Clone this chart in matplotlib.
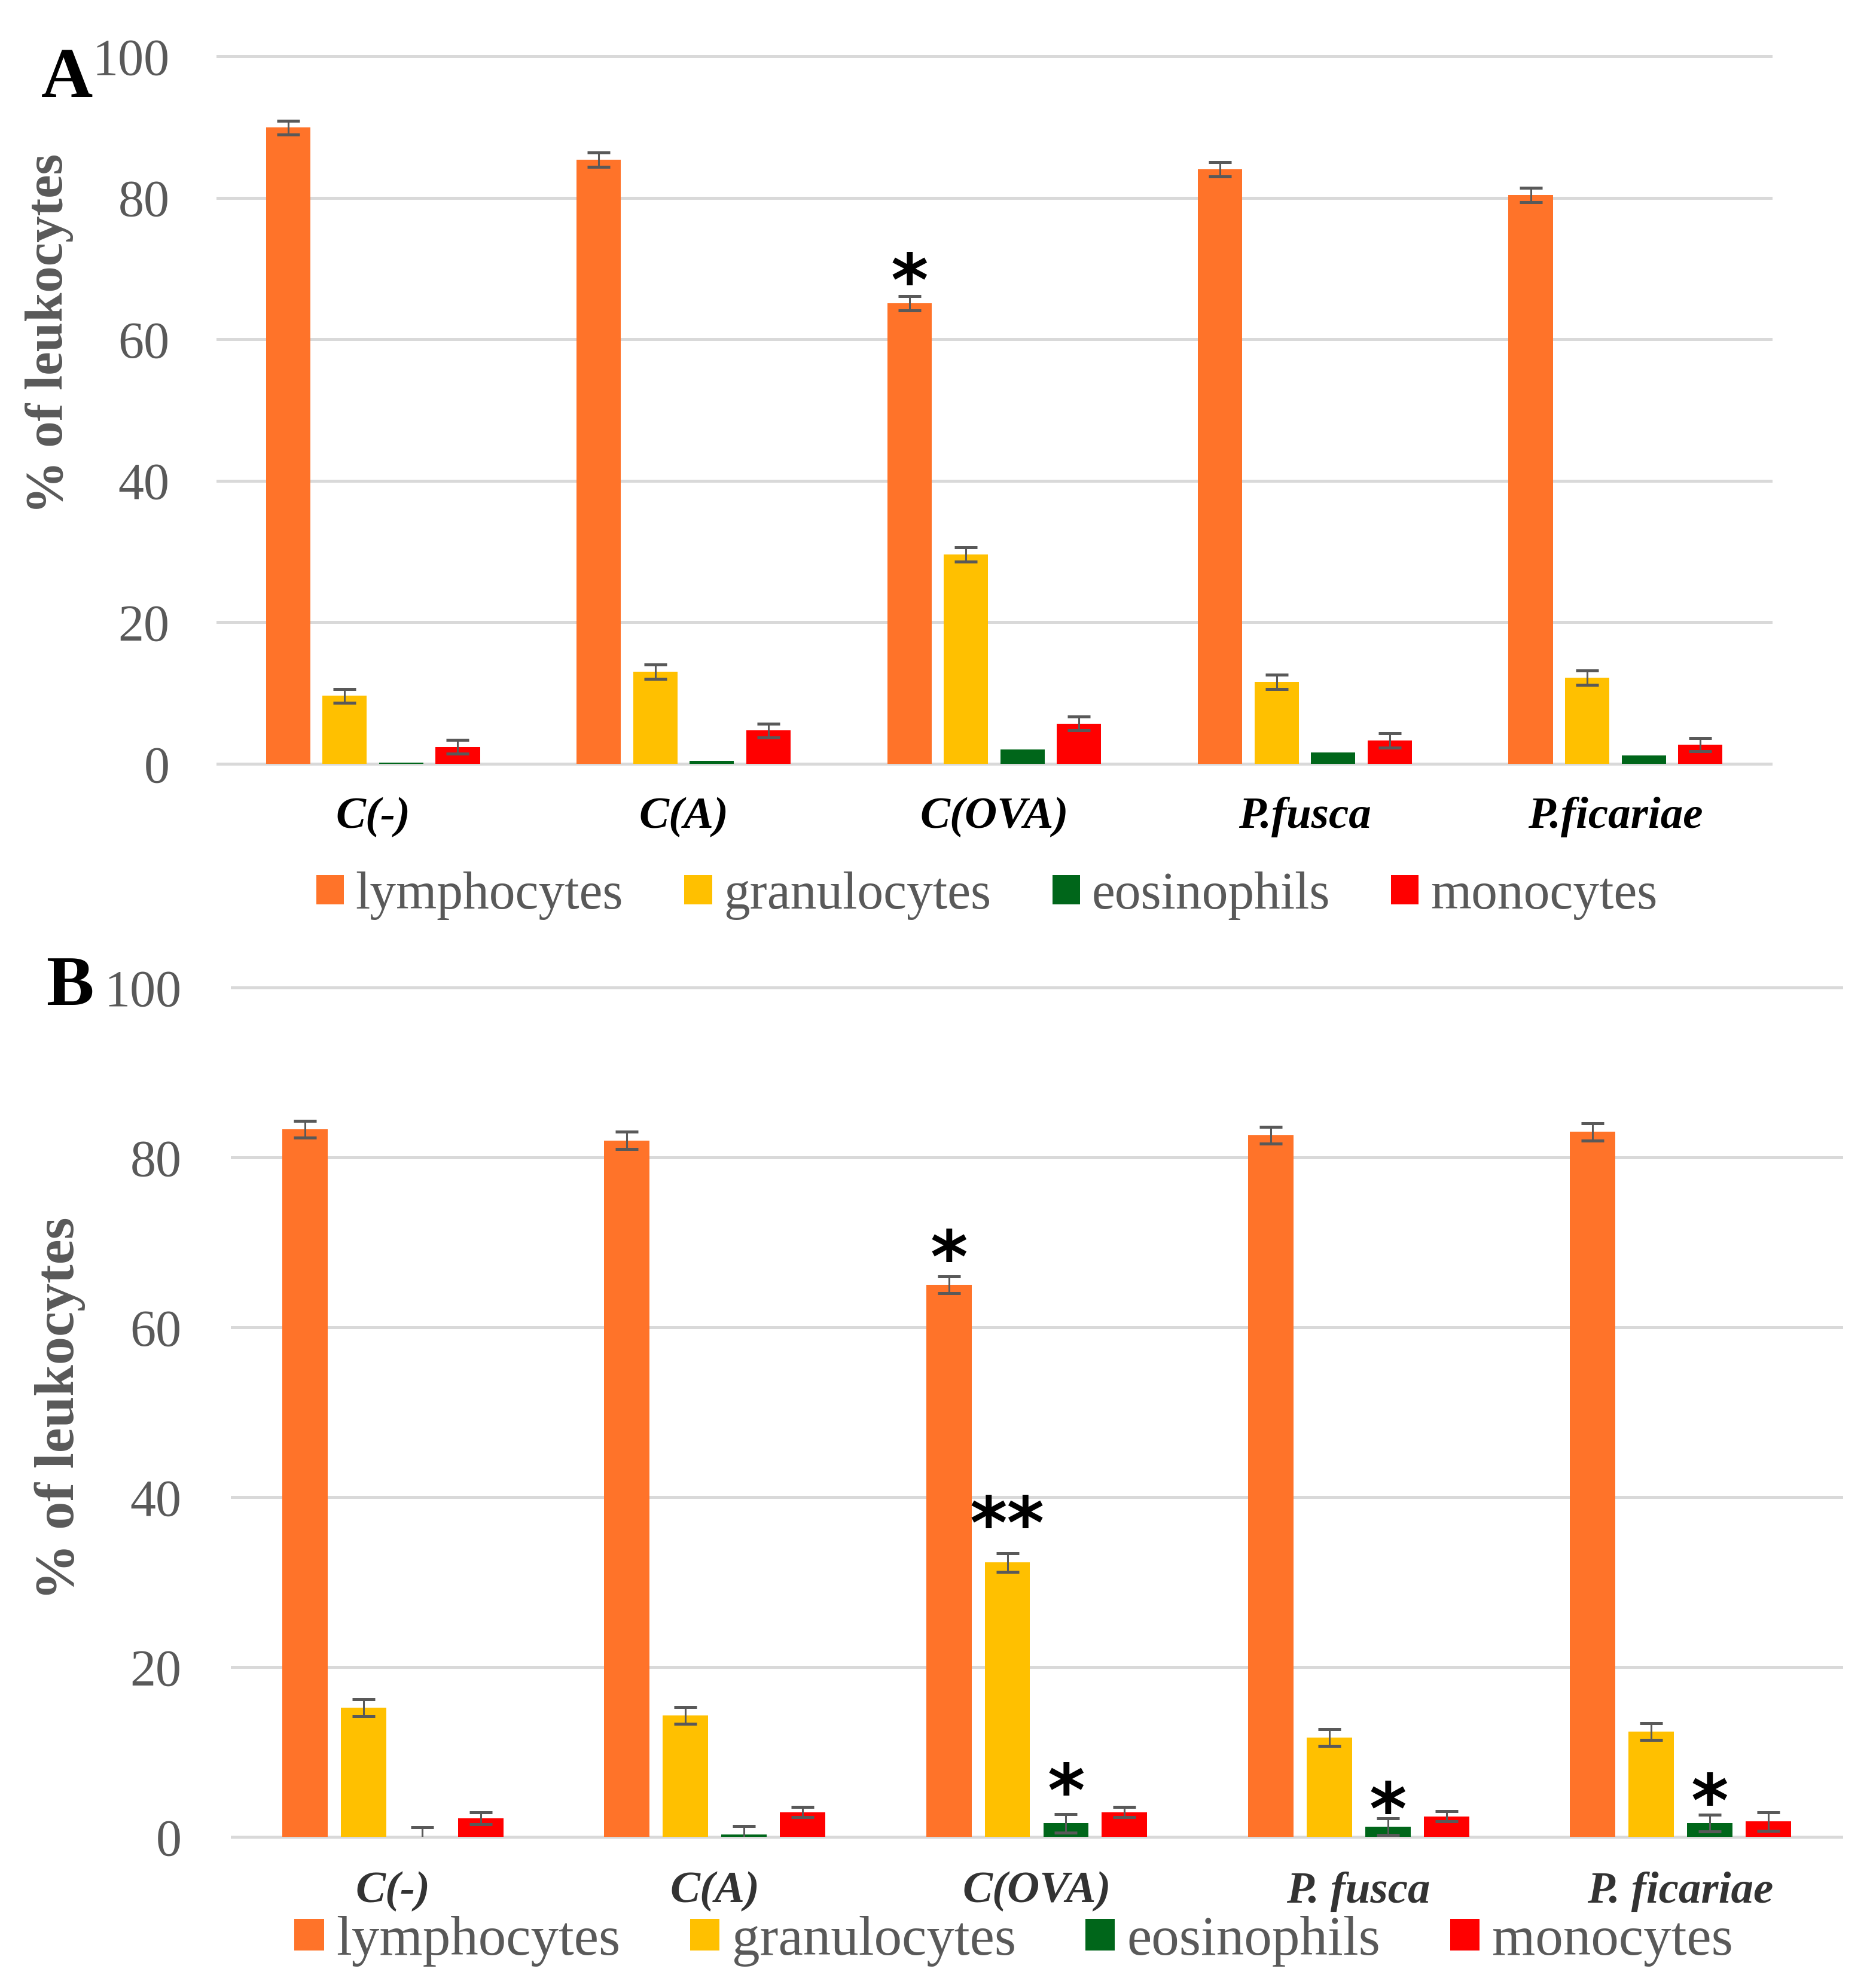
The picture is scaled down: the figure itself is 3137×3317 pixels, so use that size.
import numpy as np
import matplotlib
matplotlib.use('Agg')
import matplotlib.pyplot as plt

plt.rcParams['font.family'] = ['Liberation Serif', 'DejaVu Serif']

W, H = 3137, 3317

groups_a = ["C(-)", "C(A)", "C(OVA)", "P.fusca", "P.ficariae"]
groups_b = ["C(-)", "C(A)", "C(OVA)", "P. fusca", "P. ficariae"]
cell_types = ["lymphocytes", "granulocytes", "eosinophils", "monocytes"]
colors = ["#FF7329", "#FFC000", "#00661A", "#FF0000"]

# panel A (means, error)
a_lymph = [89.9, 85.4, 65.1, 84.0, 80.4]
a_lymph_err = [1.0, 1.0, 1.0, 1.0, 1.0]
a_gran = [9.6, 13.0, 29.6, 11.6, 12.2]
a_gran_err = [1.0, 1.0, 1.0, 1.0, 1.0]
a_eos = [0.2, 0.4, 2.0, 1.6, 1.2]
a_mono = [2.4, 4.7, 5.7, 3.3, 2.7]
a_mono_err = [1.0, 1.0, 1.0, 1.0, 0.9]

# panel B
b_lymph = [83.3, 82.0, 65.0, 82.6, 83.0]
b_lymph_err = [1.0, 1.0, 1.0, 1.0, 1.0]
b_gran = [15.2, 14.3, 32.3, 11.7, 12.4]
b_gran_err = [1.0, 1.0, 1.1, 1.0, 1.0]
b_eos = [0.0, 0.3, 1.6, 1.2, 1.6]
b_eos_err = [1.1, 1.0, 1.1, 1.0, 1.0]
b_mono = [2.2, 2.9, 2.9, 2.4, 1.8]
b_mono_err = [0.7, 0.6, 0.6, 0.6, 1.1]

# significance marks: (group, cell type, height, text)
a_marks = [(2, 0, 70.9, "*")]
b_marks = [(2, 0, 70.4, "*"), (2, 1, 39.1, "**"), (2, 2, 7.6, "*"),
           (3, 2, 5.4, "*"), (4, 2, 6.4, "*")]


def box(left, right, top, bottom):
    return [left / W, 1 - bottom / H, (right - left) / W, (bottom - top) / H]


def draw_panel(ax, groups, values, errors, marks, width, step,
               ytick_pad, xtick_pad, xcolor, leg_y, leg_x, leg_size, colspace):
    x = np.arange(len(groups))
    handles = []
    for i, (vals, err) in enumerate(zip(values, errors)):
        pos = x + (i - 1.5) * step
        b = ax.bar(pos, vals, width=width, color=colors[i], zorder=2, label=cell_types[i])
        handles.append(b)
        if err is not None:
            ax.errorbar(pos, vals, yerr=err, fmt='none', ecolor="#595959",
                        elinewidth=2.2, capsize=14, capthick=3.6, zorder=3)
    for g, s, y, txt in marks:
        ax.annotate(txt, (x[g] + (s - 1.5) * step, y), xytext=(0, -28),
                    textcoords='offset points', ha='center', va='center',
                    fontsize=86, family='DejaVu Sans', fontweight='bold',
                    color='black', zorder=4)

    ax.set_xlim(-0.5, len(groups) - 0.5)
    ax.set_ylim(0, 100)
    ax.set_yticks([0, 20, 40, 60, 80, 100])
    ax.yaxis.grid(True, color="#D9D9D9", linewidth=3.6)
    for gl in ax.get_ygridlines():
        gl.set_clip_on(False)
    ax.set_axisbelow(True)
    for side in ['top', 'right', 'left', 'bottom']:
        ax.spines[side].set_visible(False)
    ax.tick_params(axis='y', length=0, pad=ytick_pad, labelsize=62, labelcolor="#595959")
    ax.tick_params(axis='x', length=0, pad=xtick_pad)
    ax.set_xticks(x)
    ax.set_xticklabels(groups, fontsize=54, fontweight='bold', fontstyle='italic',
                       color=xcolor, va='center')

    ax.legend(handles=handles, loc='center', bbox_to_anchor=(leg_x / W, 1 - leg_y / H),
              bbox_transform=fig.transFigure, ncol=4, frameon=False,
              fontsize=leg_size, labelcolor="#595959", handlelength=0.53,
              handleheight=0.5, handletextpad=0.22, columnspacing=colspace,
              borderpad=0, borderaxespad=0)


fig = plt.figure(figsize=(W / 100, H / 100), dpi=100)

ax1 = fig.add_axes(box(364, 2961, 94, 1277))
draw_panel(ax1, groups_a, [a_lymph, a_gran, a_eos, a_mono],
           [a_lymph_err, a_gran_err, None, a_mono_err], a_marks,
           width=0.1425, step=0.182, ytick_pad=58, xtick_pad=64, xcolor='black',
           leg_y=1497, leg_x=1650, leg_size=63, colspace=1.17)

ax2 = fig.add_axes(box(388, 3079, 1651, 3071))
draw_panel(ax2, groups_b, [b_lymph, b_gran, b_eos, b_mono],
           [b_lymph_err, b_gran_err, b_eos_err, b_mono_err], b_marks,
           width=0.141, step=0.182, ytick_pad=61, xtick_pad=66, xcolor='#333333',
           leg_y=3245, leg_x=1695, leg_size=67, colspace=1.25)

fig.text(83 / W, 1 - 558 / H, "% of leukocytes", rotation=90, ha='center', va='center',
         fontsize=64, fontweight='bold', color="#595959")
fig.text(100 / W, 1 - 2355 / H, "% of leukocytes", rotation=90, ha='center', va='center',
         fontsize=68, fontweight='bold', color="#595959")

fig.text(112 / W, 1 - 133 / H, "A", ha='center', va='center', fontsize=86, fontweight='bold')
fig.text(117 / W, 1 - 1652 / H, "B", ha='center', va='center', fontsize=86, fontweight='bold')

fig.savefig("out.png", dpi=100, facecolor='white')
plt.close(fig)
